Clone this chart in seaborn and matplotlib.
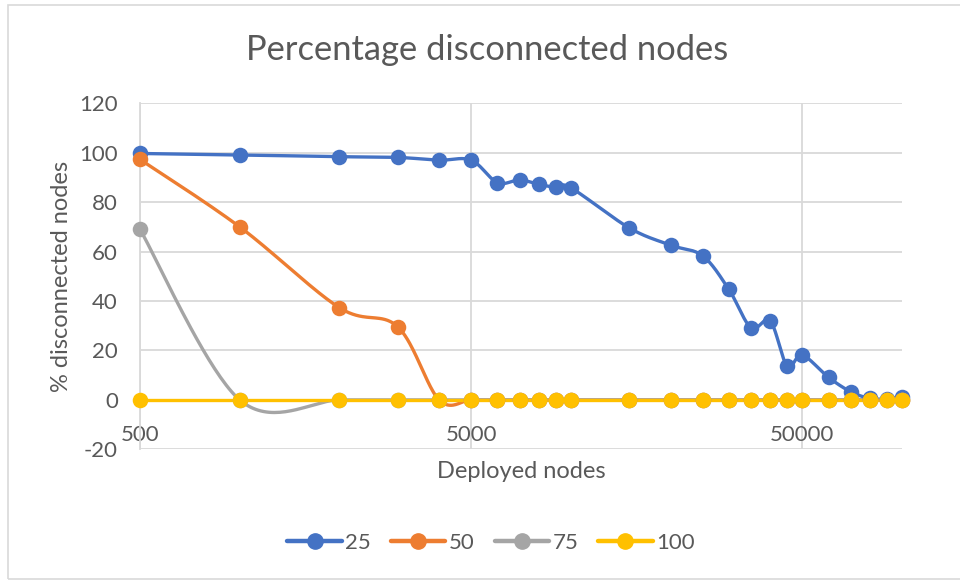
import numpy as np
import matplotlib
matplotlib.use("Agg")
import matplotlib.pyplot as plt
from matplotlib.lines import Line2D
from matplotlib.patches import Rectangle
from matplotlib.ticker import NullLocator, FixedLocator, FixedFormatter
import seaborn as sns

# ---- data ----
nodes = [500, 1000, 2000, 3000, 4000, 5000, 6000, 7000, 8000, 9000, 10000,
         15000, 20000, 25000, 30000, 35000, 40000, 45000, 50000, 60000,
         70000, 80000, 90000, 100000]
s25 = [99.7, 99.1, 98.4, 98.1, 97.0, 97.0, 87.9, 89.0, 87.2, 86.0, 85.8,
       69.6, 62.6, 58.3, 44.7, 29.2, 31.9, 13.7, 18.1, 9.1,
       3.3, 0.6, 0.4, 1.3]
s50 = [97.3, 70.0, 37.3, 29.6, 0, 0, 0, 0, 0, 0, 0,
       0, 0, 0, 0, 0, 0, 0, 0, 0, 0, 0, 0, 0]
s75 = [69.0, 0, 0, 0, 0, 0, 0, 0, 0, 0, 0,
       0, 0, 0, 0, 0, 0, 0, 0, 0, 0, 0, 0, 0]
s100 = [0] * 24
series_names = ["25", "50", "75", "100"]
series_vals = [s25, s50, s75, s100]
colors = ["#4472C4", "#ED7D31", "#A5A5A5", "#FFC000"]
yticks = [-20, 0, 20, 40, 60, 80, 100, 120]
xticks = [500, 5000, 50000]
xtick_labels = ["500", "5000", "50000"]

TXT = "#595959"
GRID = "#D9D9D9"


def excel_smooth(xs, ys, n=40):
    lx = np.log10(np.asarray(xs, float))
    y = np.asarray(ys, float)
    P = np.column_stack([lx, y])
    out = []
    m = len(P)
    for i in range(m - 1):
        p0 = P[i - 1] if i > 0 else P[i]
        p1 = P[i]
        p2 = P[i + 1]
        p3 = P[i + 2] if i + 2 < m else P[i + 1]
        c1 = p1 + (p2 - p0) / 6.0
        c2 = p2 - (p3 - p1) / 6.0
        t = np.linspace(0, 1, n)[:, None]
        b = ((1 - t) ** 3) * p1 + 3 * ((1 - t) ** 2) * t * c1 + 3 * (1 - t) * t ** 2 * c2 + t ** 3 * p2
        if i > 0:
            b = b[1:]
        out.append(b)
    B = np.vstack(out)
    return 10 ** B[:, 0], B[:, 1]


sns.set_theme(style="white")
plt.rcParams["font.family"] = ["Lato", "DejaVu Sans"]
plt.rcParams["axes.unicode_minus"] = False

fig = plt.figure(figsize=(9.6, 5.8), dpi=100)
ax = fig.add_axes([140 / 960, 1 - 449.3 / 580, 762 / 960, 346 / 580])

# chart border
fig.patches.append(Rectangle((7.5 / 960, 1 - 579 / 580), 1.0, 574 / 580,
                             transform=fig.transFigure, fill=False,
                             edgecolor=GRID, lw=1.2))

lw = 2.4
for name, vals, col in zip(series_names, series_vals, colors):
    sx, sy = excel_smooth(nodes, vals)
    sns.lineplot(x=sx, y=sy, sort=False, estimator=None, color=col, lw=lw,
                 ax=ax, legend=False, zorder=3)
    sns.scatterplot(x=nodes, y=vals, s=125, color=col, edgecolor=col,
                    linewidth=0, ax=ax, legend=False, zorder=4, clip_on=False)

for ln in ax.lines:
    ln.set_clip_on(False)

ax.set_xscale("log")
ax.set_xlim(500, 100000)
ax.set_ylim(-20, 120)
ax.xaxis.set_major_locator(FixedLocator(xticks))
ax.xaxis.set_major_formatter(FixedFormatter(xtick_labels))
ax.xaxis.set_minor_locator(NullLocator())
ax.set_yticks(yticks)

ax.grid(True, color=GRID, lw=1.3)
ax.set_axisbelow(True)
for s in ["top", "right"]:
    ax.spines[s].set_visible(False)
ax.spines["left"].set_color(GRID)
ax.spines["left"].set_linewidth(1.3)
ax.spines["bottom"].set_position(("data", 0))
ax.spines["bottom"].set_color(GRID)
ax.spines["bottom"].set_linewidth(1.3)

ax.tick_params(axis="x", length=0, pad=18, labelsize=16, labelcolor=TXT)
ax.tick_params(axis="y", length=0, pad=16, labelsize=16, labelcolor=TXT)
ax.set_xlabel("")
ax.set_ylabel("")

fig.text(487.5 / 960, 1 - 60 / 580, "Percentage disconnected nodes",
         ha="center", va="baseline", fontsize=24.8, color=TXT)
fig.text(521 / 960, 1 - 478 / 580, "Deployed nodes",
         ha="center", va="baseline", fontsize=17, color=TXT)
fig.text(68 / 960, 1 - 276.5 / 580, "% disconnected nodes", rotation=90,
         rotation_mode="anchor", ha="center", va="baseline", fontsize=17,
         color=TXT)

handles = [Line2D([0], [0], color=c, lw=lw + 0.8, marker="o", markersize=11,
                  markerfacecolor=c, markeredgecolor=c) for c in colors]
leg = fig.legend(handles, series_names, loc="center",
                 bbox_to_anchor=(491 / 960, 1 - 543 / 580), ncol=4,
                 frameon=False, fontsize=16, handlelength=2.45,
                 handletextpad=0.15, columnspacing=0.9)
for t in leg.get_texts():
    t.set_color(TXT)

fig.savefig("out.png", dpi=100)
